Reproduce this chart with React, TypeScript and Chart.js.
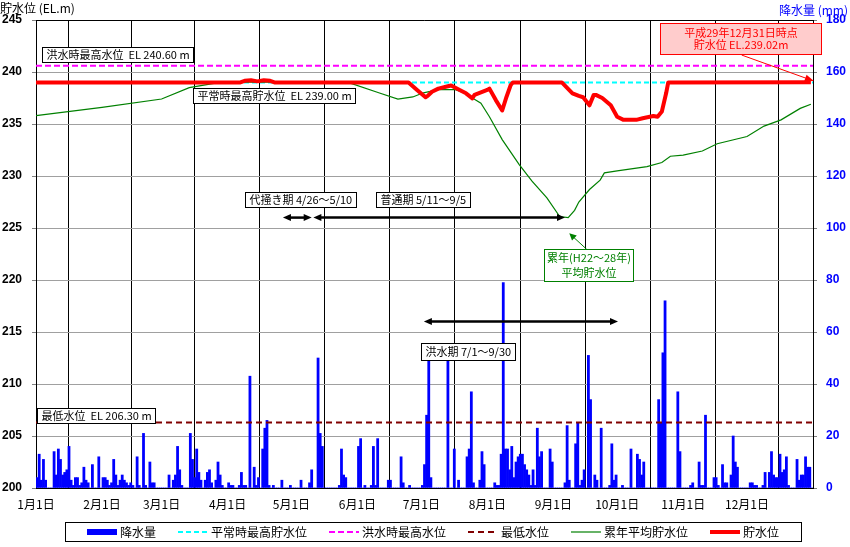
import React, { useEffect, useRef } from 'react';
import { Chart, registerables } from 'chart.js';

Chart.register(...registerables);

// ---------- data ----------
const MONTH_LABELS = ['1月1日', '2月1日', '3月1日', '4月1日', '5月1日', '6月1日', '7月1日', '8月1日', '9月1日', '10月1日', '11月1日', '12月1日'];
const MONTH_START_DAYS = [0, 31, 59, 90, 120, 151, 181, 212, 243, 273, 304, 334];
const YEAR_DAYS = 365;

const SERIES_NAMES = ['降水量', '平常時最高貯水位', '洪水時最高水位', '最低水位', '累年平均貯水位', '貯水位'];

// daily rainfall (mm)
const RAIN_JAN = [4, 13, 3, 11, 3, 0, 0, 0, 14, 5, 15, 11, 5, 6, 7, 16, 3, 1, 4, 4, 1, 2, 8, 3, 2, 0, 9, 0, 0, 12, 0];
const RAIN_FEB = [4, 4, 3, 1, 2, 11, 5, 1, 3, 5, 3, 2, 1, 2, 1, 0, 12, 1, 0, 21, 1, 0, 10, 2, 2, 0, 0, 0];
const RAIN_MAR = [0, 0, 0, 5, 0, 3, 5, 16, 7, 1, 0, 0, 0, 21, 11, 4, 15, 6, 3, 0, 3, 6, 7, 2, 0, 3, 10, 5, 1, 0, 0];
const RAIN_APR = [2, 1, 1, 0, 0, 1, 6, 1, 1, 0, 43, 0, 8, 1, 4, 0, 15, 23, 26, 1, 0, 1, 0, 0, 0, 3, 0, 0, 0, 1];
const RAIN_MAY = [0, 0, 0, 0, 3, 0, 0, 0, 2, 7, 0, 0, 50, 21, 16, 0, 0, 0, 0, 0, 0, 0, 1, 15, 5, 4, 0, 0, 0, 0, 0];
const RAIN_JUN = [16, 19, 0, 1, 0, 0, 1, 16, 1, 19, 0, 0, 0, 0, 3, 3, 0, 0, 0, 0, 12, 2, 0, 0, 1, 0, 0, 0, 0, 0];
const RAIN_JUL = [1, 9, 28, 55, 4, 0, 0, 0, 0, 0, 0, 0, 52, 0, 0, 15, 0, 3, 0, 0, 0, 12, 15, 37, 2, 0, 0, 3, 14, 9, 0];
const RAIN_AUG = [0, 0, 0, 2, 1, 1, 13, 79, 15, 15, 7, 16, 4, 10, 12, 13, 13, 9, 7, 5, 1, 7, 1, 23, 12, 14, 0, 0, 0, 15, 10];
const RAIN_SEP = [0, 0, 0, 0, 0, 2, 24, 3, 0, 0, 17, 25, 1, 3, 7, 0, 51, 34, 0, 5, 3, 0, 23, 0, 0, 0, 1, 17, 3, 5];
const RAIN_OCT = [0, 0, 1, 0, 0, 0, 15, 0, 0, 13, 11, 5, 10, 0, 0, 0, 0, 0, 0, 34, 25, 52, 72, 0, 0, 0, 0, 0, 37, 14, 0];
const RAIN_NOV = [0, 0, 0, 1, 2, 0, 0, 10, 1, 1, 28, 0, 0, 0, 4, 4, 1, 0, 9, 2, 2, 0, 5, 20, 10, 8, 0, 0, 0, 0];
const RAIN_DEC = [0, 2, 2, 1, 1, 0, 0, 1, 6, 0, 6, 14, 5, 4, 4, 13, 6, 7, 12, 1, 0, 0, 0, 11, 3, 5, 5, 12, 8, 8, 0];

// multi-year average storage level (EL.m), by day of year
const AVG_DAYS = [0, 31, 59, 72, 85, 100, 120, 148, 161, 170, 177, 182, 189, 197, 201, 205, 209, 213, 219, 227, 233, 240, 246, 250, 253, 255, 260, 265, 267, 273, 287, 294, 298, 304, 313, 320, 334, 342, 350, 359, 364];
const AVG_LEVELS = [235.8, 236.6, 237.4, 238.5, 238.95, 239.05, 239.0, 238.9, 238.0, 237.4, 237.6, 238.0, 238.3, 238.3, 238.0, 237.5, 237.0, 235.7, 233.5, 231.1, 229.5, 227.9, 226.1, 226.0, 226.7, 227.5, 228.7, 229.6, 230.3, 230.5, 230.9, 231.3, 231.9, 232.0, 232.4, 233.1, 233.8, 234.8, 235.4, 236.5, 236.9];

// storage level of the year (EL.m)
const LEVEL_DAYS = [0, 96, 98, 101, 104, 107, 110, 112, 175, 179, 183, 184, 186, 189, 193, 195, 199, 202, 205, 206, 212, 213, 216, 219, 221, 223, 224, 247, 252, 255, 257, 260, 262, 263, 266, 270, 273, 276, 282, 285, 290, 292, 294, 296, 297, 364];
const LEVEL_VALUES = [239.0, 239.0, 239.15, 239.2, 239.1, 239.2, 239.15, 239.0, 239.0, 238.27, 237.57, 237.7, 238.1, 238.4, 238.6, 238.7, 238.27, 237.95, 237.47, 237.8, 238.27, 238.4, 237.3, 236.3, 237.6, 238.75, 239.0, 239.0, 237.95, 237.7, 237.57, 236.8, 237.8, 237.8, 237.5, 236.8, 235.7, 235.4, 235.4, 235.55, 235.77, 235.7, 236.2, 237.95, 239.0, 239.02];

const NORMAL_HIGH = 239.0;
const FLOOD_HIGH = 240.6;
const MIN_LEVEL = 206.3;

const LEVEL_MIN = 200;
const LEVEL_MAX = 245;
const LEVEL_STEP = 5;
const RAIN_MIN = 0;
const RAIN_MAX = 180;
const RAIN_STEP = 20;

// ---------- helpers ----------
const JP = '"Noto Sans CJK JP", "Noto Sans", sans-serif';

function arrowHead(ctx: CanvasRenderingContext2D, fx: number, fy: number, tx: number, ty: number, len: number, half: number, color: string) {
  const a = Math.atan2(ty - fy, tx - fx);
  const bx = tx - len * Math.cos(a);
  const by = ty - len * Math.sin(a);
  ctx.beginPath();
  ctx.moveTo(tx, ty);
  ctx.lineTo(bx + half * Math.sin(a), by - half * Math.cos(a));
  ctx.lineTo(bx - half * Math.sin(a), by + half * Math.cos(a));
  ctx.closePath();
  ctx.fillStyle = color;
  ctx.fill();
}

function arrow(ctx: CanvasRenderingContext2D, x1: number, y1: number, x2: number, y2: number, color: string, width: number, both: boolean, len = 8, half = 3.5) {
  const a = Math.atan2(y2 - y1, x2 - x1);
  ctx.save();
  ctx.strokeStyle = color;
  ctx.lineWidth = width;
  ctx.beginPath();
  ctx.moveTo(x1 + (both ? len * 0.8 * Math.cos(a) : 0), y1 + (both ? len * 0.8 * Math.sin(a) : 0));
  ctx.lineTo(x2 - len * 0.8 * Math.cos(a), y2 - len * 0.8 * Math.sin(a));
  ctx.stroke();
  arrowHead(ctx, x1, y1, x2, y2, len, half, color);
  if (both) arrowHead(ctx, x2, y2, x1, y1, len, half, color);
  ctx.restore();
}

function textBox(ctx: CanvasRenderingContext2D, lines: string[], left: number, top: number, opts: { fill: string; stroke: string; color: string; width?: number; lineH?: number; padX?: number; height?: number; center?: boolean }) {
  ctx.save();
  ctx.font = `11px ${JP}`;
  const padX = opts.padX ?? 4;
  const lineH = opts.lineH ?? 15;
  const tw = Math.max(...lines.map((l) => ctx.measureText(l).width));
  const w = Math.round(opts.width ?? tw + padX * 2);
  const h = Math.round(opts.height ?? lineH * lines.length + 2);
  const L = Math.round(left) + 0.5;
  const T = Math.round(top) + 0.5;
  ctx.fillStyle = opts.fill;
  ctx.fillRect(L, T, w, h);
  ctx.strokeStyle = opts.stroke;
  ctx.lineWidth = 1;
  ctx.strokeRect(L, T, w, h);
  ctx.fillStyle = opts.color;
  ctx.textBaseline = 'middle';
  const startY = T + h / 2 - (lineH * (lines.length - 1)) / 2;
  lines.forEach((l, i) => {
    if (opts.center) {
      ctx.textAlign = 'center';
      ctx.fillText(l, L + w / 2, startY + i * lineH);
    } else {
      ctx.textAlign = 'left';
      ctx.fillText(l, L + padX, startY + i * lineH);
    }
  });
  ctx.restore();
}

const framePlugin = {
  id: 'frame',
  beforeDatasetsDraw(chart: any) {
    const { ctx, chartArea: a } = chart;
    ctx.save();
    ctx.strokeStyle = '#000';
    ctx.lineWidth = 1;
    ctx.beginPath();
    ctx.moveTo(a.left, Math.round(a.top) + 0.5);
    ctx.lineTo(a.right, Math.round(a.top) + 0.5);
    ctx.stroke();
    ctx.restore();
  },
};

const annotationPlugin = {
  id: 'notes',
  afterDatasetsDraw(chart: any) {
    const ctx: CanvasRenderingContext2D = chart.ctx;
    const xs = chart.scales.x;
    const ys = chart.scales.y;
    const X = (d: number) => xs.getPixelForValue(d);
    const Y = (v: number) => ys.getPixelForValue(v);
    const white = { fill: '#ffffff', stroke: '#000000', color: '#000000' };

    // period arrows
    arrow(ctx, X(116), Y(226), X(129.5), Y(226), '#000', 2.5, true);
    arrow(ctx, X(130.3), Y(226), X(248.5), Y(226), '#000', 2.5, true);
    arrow(ctx, X(182.2), Y(216), X(273.4), Y(216), '#000', 2.5, true);

    // label boxes
    textBox(ctx, [`${SERIES_NAMES[2]}  EL ${FLOOD_HIGH.toFixed(2)} m`], X(2.7), Y(242.45), { ...white, height: 15 });
    textBox(ctx, [`${SERIES_NAMES[1]}  EL ${NORMAL_HIGH.toFixed(2)} m`], X(73.9), Y(238.5), { ...white, height: 15 });
    textBox(ctx, [`${SERIES_NAMES[3]}  EL ${MIN_LEVEL.toFixed(2)} m`], X(0.3), Y(207.7), { ...white, height: 15 });
    textBox(ctx, ['代掻き期 4/26～5/10'], X(98.2), Y(228.45), { ...white, height: 15 });
    textBox(ctx, ['普通期 5/11～9/5'], X(159.6), Y(228.45), { ...white, height: 15 });
    textBox(ctx, ['洪水期 7/1～9/30'], X(180.8), Y(213.9), { ...white, height: 17 });

    // average level note
    arrow(ctx, X(258.7), Y(222.95), X(250.5), Y(224.49), '#008000', 1, false, 7, 3.5);
    textBox(ctx, ['累年(H22～28年)', '平均貯水位'], X(238.6), Y(222.95), { fill: '#ffffff', stroke: '#008000', color: '#008000', width: 89, height: 32, lineH: 15, center: true });

    // end-of-year note
    arrow(ctx, X(331.5), Y(241.63), X(365.4), Y(239.13), '#ff0000', 1, false, 9, 3.5);
    const last = LEVEL_VALUES[LEVEL_VALUES.length - 1];
    textBox(ctx, ['平成29年12月31日時点', `${SERIES_NAMES[5]} EL.${last.toFixed(2)}m`], X(293.1), Y(244.68), { fill: '#ffcccc', stroke: '#ff0000', color: '#ff0000', width: 161, height: 31, lineH: 12.5, center: true });
  },
  afterDraw(chart: any) {
    const ctx: CanvasRenderingContext2D = chart.ctx;
    ctx.save();
    // axis titles
    ctx.font = `12px ${JP}`;
    ctx.textBaseline = 'middle';
    ctx.fillStyle = '#000';
    ctx.textAlign = 'left';
    ctx.fillText('貯水位 (EL.m)', 0, 8);
    ctx.fillStyle = '#0000ff';
    ctx.textAlign = 'right';
    ctx.fillText('降水量 (mm)', 848, 10);

    // legend
    const ds = chart.data.datasets;
    const sampleW = 30;
    const gapT = 3;
    const gapI = 22;
    const padX = 22;
    const widths = ds.map((d: any) => sampleW + gapT + ctx.measureText(d.label).width);
    const total = widths.reduce((s: number, w: number) => s + w, 0) + gapI * (ds.length - 1);
    const boxW = Math.round(total + padX * 2);
    const boxL = Math.round(432.5 - boxW / 2);
    const boxT = 522;
    const boxH = 19;
    ctx.fillStyle = '#fff';
    ctx.fillRect(boxL + 0.5, boxT + 0.5, boxW, boxH);
    ctx.strokeStyle = '#000';
    ctx.lineWidth = 1;
    ctx.strokeRect(boxL + 0.5, boxT + 0.5, boxW, boxH);
    let x = boxL + padX;
    const cy = boxT + boxH / 2 + 0.5;
    ds.forEach((d: any, i: number) => {
      if (d.type === 'bar') {
        ctx.fillStyle = d.backgroundColor;
        ctx.fillRect(x, cy - 3, sampleW, 6);
      } else {
        ctx.save();
        ctx.strokeStyle = d.borderColor;
        ctx.lineWidth = d.borderWidth;
        ctx.setLineDash(d.borderDash || []);
        ctx.beginPath();
        ctx.moveTo(x, cy);
        ctx.lineTo(x + sampleW, cy);
        ctx.stroke();
        ctx.restore();
      }
      ctx.fillStyle = '#000';
      ctx.textAlign = 'left';
      ctx.fillText(d.label, x + sampleW + gapT, cy);
      x += widths[i] + gapI;
    });
    ctx.restore();
  },
};

export default function App() {
  const ref = useRef<HTMLCanvasElement>(null);

  useEffect(() => {
    const canvas = ref.current;
    if (!canvas) return;
    const rain = [...RAIN_JAN, ...RAIN_FEB, ...RAIN_MAR, ...RAIN_APR, ...RAIN_MAY, ...RAIN_JUN, ...RAIN_JUL, ...RAIN_AUG, ...RAIN_SEP, ...RAIN_OCT, ...RAIN_NOV, ...RAIN_DEC];
    const rainData = rain.map((v, i) => ({ x: i + 0.5, y: v }));
    const flat = (v: number) => [{ x: 0, y: v }, { x: YEAR_DAYS, y: v }];
    const avgData = AVG_DAYS.map((d, i) => ({ x: d, y: AVG_LEVELS[i] }));
    const levelData = LEVEL_DAYS.map((d, i) => ({ x: d, y: LEVEL_VALUES[i] }));
    const tickFont = { family: '"Liberation Sans", Arial, sans-serif', size: 12, weight: 'bold' as const };

    const chart = new Chart(canvas, {
      type: 'bar',
      data: {
        datasets: [
          { type: 'bar', label: SERIES_NAMES[0], data: rainData, yAxisID: 'y2', backgroundColor: '#0000ff', borderWidth: 0, barPercentage: 1, categoryPercentage: 1, order: 10 } as any,
          { type: 'line', label: SERIES_NAMES[1], data: flat(NORMAL_HIGH), yAxisID: 'y', borderColor: '#00ffff', borderWidth: 2, borderDash: [5, 3], pointRadius: 0, order: 6 },
          { type: 'line', label: SERIES_NAMES[2], data: flat(FLOOD_HIGH), yAxisID: 'y', borderColor: '#ff00ff', borderWidth: 2, borderDash: [6, 3], pointRadius: 0, order: 5 },
          { type: 'line', label: SERIES_NAMES[3], data: flat(MIN_LEVEL), yAxisID: 'y', borderColor: '#800000', borderWidth: 2, borderDash: [6, 4], pointRadius: 0, order: 4 },
          { type: 'line', label: SERIES_NAMES[4], data: avgData, yAxisID: 'y', borderColor: '#008000', borderWidth: 1.2, pointRadius: 0, tension: 0, order: 3 },
          { type: 'line', label: SERIES_NAMES[5], data: levelData, yAxisID: 'y', borderColor: '#ff0000', borderWidth: 4, pointRadius: 0, tension: 0, borderJoinStyle: 'round', order: 1 },
        ],
      },
      options: {
        responsive: false,
        animation: false,
        devicePixelRatio: 1,
        events: [],
        layout: { padding: { top: 20, left: 0, right: 0, bottom: 0 } },
        plugins: { legend: { display: false }, tooltip: { enabled: false } },
        scales: {
          x: {
            type: 'linear',
            min: 0,
            max: YEAR_DAYS,
            offset: false,
            afterBuildTicks: (s: any) => {
              s.ticks = MONTH_START_DAYS.map((v) => ({ value: v }));
            },
            afterFit: (s: any) => {
              s.height = 59;
            },
            ticks: {
              autoSkip: false,
              maxRotation: 0,
              padding: 9,
              color: '#000',
              font: { family: JP, size: 12 },
              callback: (v: any) => {
                const i = MONTH_START_DAYS.indexOf(Number(v));
                return i >= 0 ? MONTH_LABELS[i] : '';
              },
            },
            grid: { color: '#000', lineWidth: 1, drawTicks: false },
            border: { display: true, color: '#000' },
          },
          y: {
            position: 'left',
            min: LEVEL_MIN,
            max: LEVEL_MAX,
            afterFit: (s: any) => {
              s.width = 36;
            },
            ticks: { stepSize: LEVEL_STEP, color: '#000', font: tickFont, padding: 10 },
            grid: { color: '#a0a0a0', lineWidth: 1, tickLength: 4, tickColor: '#808080' },
            border: { display: true, color: '#000' },
          },
          y2: {
            position: 'right',
            min: RAIN_MIN,
            max: RAIN_MAX,
            afterFit: (s: any) => {
              s.width = 37;
            },
            ticks: { stepSize: RAIN_STEP, color: '#0000ff', font: tickFont, padding: 9 },
            grid: { drawOnChartArea: false, tickLength: 4, tickColor: '#808080' },
            border: { display: true, color: '#000' },
          },
        },
      } as any,
      plugins: [framePlugin, annotationPlugin],
    });
    return () => chart.destroy();
  }, []);

  return (
    <div style={{ position: 'fixed', left: 0, top: 0, width: 850, height: 547, background: '#ffffff' }}>
      <canvas ref={ref} width={850} height={547} style={{ display: 'block', width: 850, height: 547 }} />
    </div>
  );
}
